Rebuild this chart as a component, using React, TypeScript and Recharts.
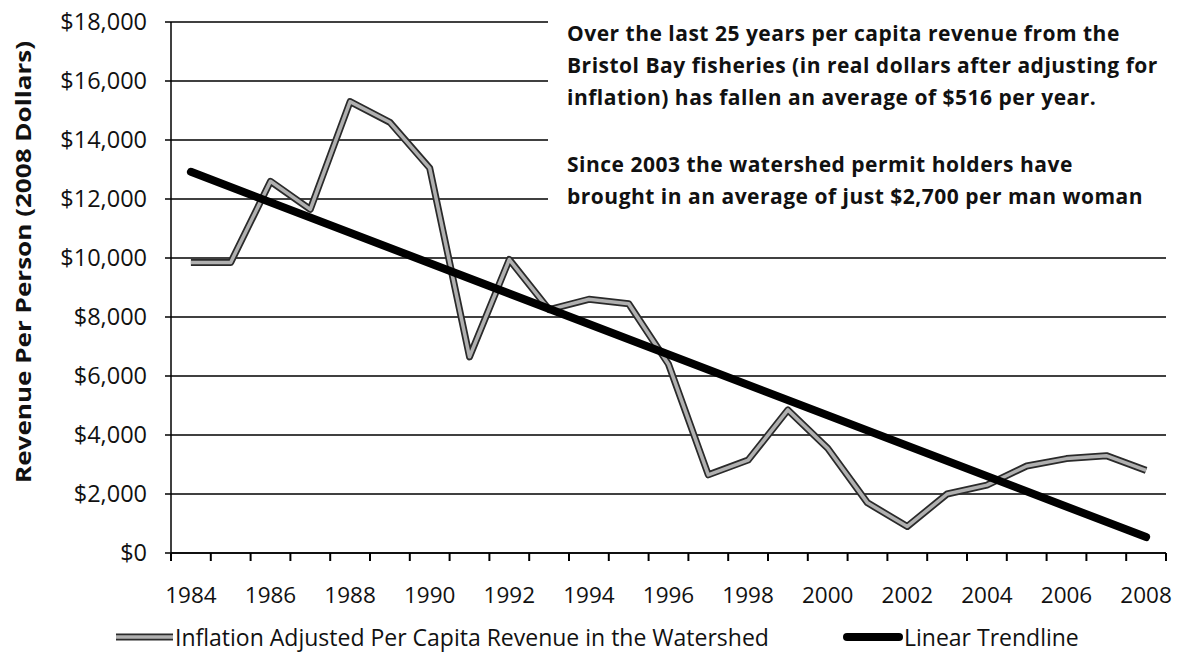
import React from 'react';
import { LineChart, Line, XAxis, YAxis, CartesianGrid } from 'recharts';

const years = [1984, 1985, 1986, 1987, 1988, 1989, 1990, 1991, 1992, 1993, 1994, 1995, 1996, 1997, 1998, 1999, 2000, 2001, 2002, 2003, 2004, 2005, 2006, 2007, 2008];
const revenue = [9850, 9850, 12600, 11650, 15300, 14600, 13050, 6650, 9950, 8250, 8600, 8450, 6400, 2650, 3150, 4850, 3550, 1700, 900, 2000, 2300, 2950, 3200, 3300, 2800];
// Linear trendline endpoints (1984 and 2008), other years left empty
const trend: (number | null)[] = [12920, null, null, null, null, null, null, null, null, null, null, null, null, null, null, null, null, null, null, null, null, null, null, null, 540];
const yTicks = [0, 2000, 4000, 6000, 8000, 10000, 12000, 14000, 16000, 18000];
const xLabelTicks = [1984, 1986, 1988, 1990, 1992, 1994, 1996, 1998, 2000, 2002, 2004, 2006, 2008];
const seriesNames = ['Inflation Adjusted Per Capita Revenue in the Watershed', 'Linear Trendline'];
const yAxisTitle = 'Revenue Per Person (2008 Dollars)';
const noteLines1 = [
  'Over the last 25 years per capita revenue from the',
  'Bristol Bay fisheries (in real dollars after adjusting for',
  'inflation) has fallen an average of $516 per year.',
];
const noteLines2 = [
  'Since 2003 the watershed permit holders have',
  'brought in an average of just $2,700 per man woman',
];

const data = years.map((year, i) => ({ year, revenue: revenue[i], trend: trend[i] }));
const xDomain = [years[0] - 0.5, years[years.length - 1] + 0.5];
// category boundaries (tick marks) and label positions on one numeric axis
const boundaryTicks = [years[0] - 0.5, ...years.map((y) => y + 0.5)];
const allXTicks = [...boundaryTicks, ...xLabelTicks].sort((a, b) => a - b);

const FONT = '"Open Sans", "Noto Sans", sans-serif';

const fmt = (v: number) => '$' + v.toLocaleString('en-US');

const XTick = (props: any) => {
  const { x, y, payload } = props;
  const v = Number(payload && payload.value);
  const isBoundary = boundaryTicks.includes(v);
  if (isBoundary) {
    return <path d={`M${x},${y}L${x},${y + 8}`} stroke="#000" strokeWidth={2} fill="none" />;
  }
  return (
    <text x={x} y={y + 34} dy="0.71em" textAnchor="middle" fill="#111" fontSize={22.5} fontFamily={FONT}>
      {v}
    </text>
  );
};

export default function App() {
  return (
    <div style={{ position: 'absolute', left: 0, top: 0, width: 1178, height: 657, background: '#fff', fontFamily: FONT }}>
      <LineChart width={1178} height={657} data={data} margin={{ top: 22, right: 12, bottom: 0, left: 0 }}>
        <CartesianGrid vertical={false} stroke="#000" strokeWidth={1.5} />
        <XAxis
          dataKey="year"
          type="number"
          domain={xDomain}
          ticks={allXTicks}
          interval={0}
          minTickGap={0}
          height={104}
          axisLine={{ stroke: '#000', strokeWidth: 1.5 }}
          tickLine={false}
          tickSize={0}
          tickMargin={0}
          tick={XTick}
        />
        <YAxis
          width={171}
          domain={[0, 18000]}
          ticks={yTicks}
          interval={0}
          tickFormatter={fmt}
          tickSize={6}
          tickMargin={18}
          axisLine={{ stroke: '#000', strokeWidth: 1.5 }}
          tickLine={{ stroke: '#000', strokeWidth: 1.5 }}
          tick={{ fill: '#111', fontSize: 23.5, fontFamily: FONT }}
          label={() => (
            <text
              x={23}
              y={262}
              transform="rotate(-90 23 262)"
              textAnchor="middle"
              dominantBaseline="central"
              fontFamily={FONT}
              fontWeight="bold"
              fontSize={21}
              fill="#111"
              textLength={442}
              lengthAdjust="spacingAndGlyphs"
            >
              {yAxisTitle}
            </text>
          )}
        />
        <Line dataKey="revenue" stroke="#2a2a2a" strokeWidth={7} dot={false} isAnimationActive={false} strokeLinejoin="round" />
        <Line dataKey="revenue" name={seriesNames[0]} stroke="#b0b0b0" strokeWidth={3.5} dot={false} isAnimationActive={false} strokeLinejoin="round" />
        <Line dataKey="trend" name={seriesNames[1]} stroke="#000" strokeWidth={8} strokeLinecap="round" connectNulls dot={false} isAnimationActive={false} />
      </LineChart>

      <div style={{ position: 'absolute', left: 548, top: 4, width: 630, height: 210, background: '#fff', paddingLeft: 19, paddingTop: 12.5, boxSizing: 'border-box', fontWeight: 'bold', fontSize: 21, letterSpacing: 0.5, color: '#111', lineHeight: '32.3px' }}>
        {noteLines1.map((t) => (
          <div key={t} style={{ whiteSpace: 'nowrap' }}>{t}</div>
        ))}
        <div style={{ height: 34.5 }} />
        {noteLines2.map((t) => (
          <div key={t} style={{ whiteSpace: 'nowrap' }}>{t}</div>
        ))}
      </div>

      <div style={{ position: 'absolute', left: 0, top: 620, width: 1178, height: 34, fontSize: 23, color: '#111' }}>
        <div style={{ position: 'absolute', left: 115, top: 0, display: 'flex', alignItems: 'center', height: 34 }}>
          <svg width={60} height={10} style={{ display: 'block' }}>
            <line x1={1} y1={5} x2={58} y2={5} stroke="#2a2a2a" strokeWidth={7} />
            <line x1={1} y1={5} x2={58} y2={5} stroke="#b0b0b0" strokeWidth={3.5} />
          </svg>
          <span style={{ whiteSpace: 'nowrap' }}>{seriesNames[0]}</span>
        </div>
        <div style={{ position: 'absolute', left: 842, top: 0, display: 'flex', alignItems: 'center', height: 34 }}>
          <svg width={62} height={12} style={{ display: 'block' }}>
            <line x1={5} y1={6} x2={57} y2={6} stroke="#000" strokeWidth={8} strokeLinecap="round" />
          </svg>
          <span style={{ whiteSpace: 'nowrap' }}>{seriesNames[1]}</span>
        </div>
      </div>
    </div>
  );
}
